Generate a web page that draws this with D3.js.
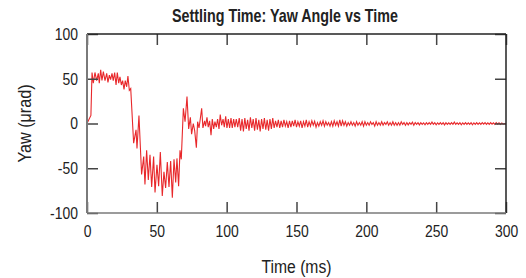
<!DOCTYPE html>
<html>
<head>
<meta charset="utf-8">
<script src="https://cdn.jsdelivr.net/npm/d3@7"></script>
<style>
  body { margin: 0; background: #fff; }
  svg { display: block; font-family: "Liberation Sans", Arial, sans-serif; }
</style>
</head>
<body>
<svg id="chart" width="526" height="278"></svg>
<script>
// transient part (time in ms, yaw in urad)
const transientT = [0, 2.8, 3.6, 4.5, 5.7, 6.9, 8.1, 8.8, 9.8, 10.7, 11.7, 12.9, 14.1, 15.0, 16.0, 16.9,
  17.9, 18.8, 19.8, 20.8, 21.7, 22.7, 23.6, 24.6, 25.5, 26.5, 27.4, 28.4, 29.3, 30.3, 31.3,
  33.4, 35.1, 35.8, 37.2, 39.1, 40.6, 41.5, 42.7, 43.9, 45.1, 46.3, 47.7, 48.7, 50.1, 51.3,
  52.5, 53.9, 55.1, 56.3, 57.5, 58.7, 59.9, 61.1, 62.3, 63.5, 64.4, 65.6, 66.6, 67.5, 69.0,
  70.2, 71.6, 72.8, 74.0, 74.9, 76.1, 77.1, 78.3, 79.2, 80.2, 81.1, 82.1, 83.0, 84.2, 84.9,
  85.9, 86.8, 87.8, 88.8, 89.7, 90.7, 91.6, 92.6, 93.5, 94.5, 95.4, 96.4, 97.4, 98.3, 99.3,
  100.2, 101.2, 102.1, 103.1, 104.0, 105.0, 105.9, 106.9, 107.9];
const transientYaw = [0, 9, 57, 45, 57, 48, 56, 45, 60, 48, 58, 48, 56, 46, 54, 49,
  56, 48, 57, 43, 57, 45, 52, 43, 48, 38, 48, 41, 53, 37, 39,
  -22, -7, -28, 9, -57, -37, -68, -30, -63, -35, -71, -37, -77, -46, -70,
  -32, -81, -54, -72, -43, -71, -42, -83, -40, -66, -39, -70, -30, -40, 17,
  2, 30, -6, 7, -12, 0, -8, -27, 2, -5, 5, 17, -5, 3, -3,
  7, -4, 3, -13, 5, -6, 2, -4, 5, -6, 10, -2, 5, -4, 8,
  -5, 5, -5, 6, -5, 5, -4, 5, -4];

// settling tail, one sample per ms starting at 109 ms
const tailStart = 109;
const tailYaw = [
  6, -8, 5, -9, 6, -6, 4, -8, 7, -5,
  5, -8, 6, -7, 4, -9, 5, -6, 6, -7,
  4, -8, 5, -6, 6, -5, 3, -4, 4, -5,
  3, -4, 4, -3, 2, -5, 3, -4, 3, -3,
  4, -4, 2, -3, 3, -5, 2, -3, 4, -4,
  2, -3, 3, -2, 2.5, -4, 1, -3, 2, -2,
  3, -3, 2, -2, 1, -3, 2, -3, 3, -2,
  2, -3, 4, -3, 3, -2, 2, -3, 1, -2,
  2, -2, 1, -3, 2, -2, 1, -2, 2, -3,
  2, -2, 1, -2, 2, -1, 1, -3, 2, -2,
  1, -2, 2, -2, 1, -1, 2, -2, 1, -2,
  2, -2, 1, -2, 1, -2, 2, -1, 1, -2,
  1, -1.5, 1, -1, 1.5, -2, 1, -1, 1, -1.5,
  1, -1, 0.8, -1.5, 1, -1, 1, -1, 1.5, -1,
  1, -1.5, 0.8, -1, 1, -1, 1, -1.5, 1, -1,
  0.8, -1, 1, -1, 1.5, -1, 0.8, -1, 1, -1.5,
  0.8, -1, 1, -1, 0.8, -1, 1, -1.5, 0.8, -1,
  1, -1, 0.8, -1, 1, -0.8, 1, -1, 0.8, -1,
  1, -0.8, 0.8, -1, 1, -0.8, 0.8, -1, 0.5, -0.8,
  0, -0.5];

const xTicks = [0, 50, 100, 150, 200, 250, 300];
const yTicks = [-100, -50, 0, 50, 100];

const width = 526, height = 278;
const margin = {top: 34, right: 20, bottom: 65, left: 87};
const innerW = width - margin.left - margin.right;
const innerH = height - margin.top - margin.bottom;

let points = transientT.map((t, i) => [t, transientYaw[i]]);
tailYaw.forEach((v, i) => points.push([tailStart + i, v]));

const svg = d3.select("#chart");
const g = svg.append("g").attr("transform", "translate(" + margin.left + "," + margin.top + ")");

let x = d3.scaleLinear().domain([0, 300]).range([0, innerW]);
let y = d3.scaleLinear().domain([-100, 100]).range([innerH, 0]);

// the signal
g.append("path")
  .datum(points)
  .attr("fill", "none")
  .attr("stroke", "#e8282b")
  .attr("stroke-width", 1.1)
  .attr("d", d3.line().x(d => x(d[0])).y(d => y(d[1])));

// axes with inward ticks; tick text squeezed to look like a condensed face
function styleAxis(sel) {
  sel.select(".domain").remove();
  sel.selectAll(".tick line").attr("stroke", "#444").attr("stroke-width", 1.5);
  sel.selectAll(".tick text").attr("fill", "#222").style("font-size", "17px");
}

let xAxis = g.append("g")
  .attr("transform", "translate(0," + innerH + ")")
  .call(d3.axisBottom(x).tickValues(xTicks).tickFormat(d => String(d))
    .tickSizeInner(-11).tickSizeOuter(0).tickPadding(12))
  .call(styleAxis);
xAxis.selectAll(".tick text").attr("transform", "scale(0.82,1)");

let yAxis = g.append("g")
  .call(d3.axisLeft(y).tickValues(yTicks).tickFormat(d => String(d))
    .tickSizeInner(-11).tickSizeOuter(0).tickPadding(8))
  .call(styleAxis);
yAxis.selectAll(".tick text").attr("x", 0).attr("transform", "translate(-9,0) scale(0.82,1)");

g.append("g")
  .call(d3.axisTop(x).tickValues(xTicks).tickSizeInner(-11).tickSizeOuter(0).tickFormat(""))
  .call(styleAxis);

g.append("g")
  .attr("transform", "translate(" + innerW + ",0)")
  .call(d3.axisRight(y).tickValues(yTicks).tickSizeInner(-11).tickSizeOuter(0).tickFormat(""))
  .call(styleAxis);

// frame: left/bottom grey, top/right dark
g.append("line").attr("x1", 0).attr("x2", innerW).attr("y1", 0).attr("y2", 0)
  .attr("stroke", "#222").attr("stroke-width", 1.5);
g.append("line").attr("x1", innerW).attr("x2", innerW).attr("y1", 0).attr("y2", innerH)
  .attr("stroke", "#222").attr("stroke-width", 1.5);
g.append("line").attr("x1", 0).attr("x2", 0).attr("y1", 0).attr("y2", innerH)
  .attr("stroke", "#7a7a7a").attr("stroke-width", 2);
g.append("line").attr("x1", 0).attr("x2", innerW).attr("y1", innerH).attr("y2", innerH)
  .attr("stroke", "#7a7a7a").attr("stroke-width", 1.5);

// title and labels
svg.append("text")
  .attr("x", 285)
  .attr("y", 22)
  .attr("text-anchor", "middle")
  .attr("textLength", 226)
  .attr("lengthAdjust", "spacingAndGlyphs")
  .style("font-size", "18.5px")
  .style("font-weight", "bold")
  .attr("fill", "#222")
  .text("Settling Time: Yaw Angle vs Time");

svg.append("text")
  .attr("x", margin.left + innerW / 2)
  .attr("y", 273)
  .attr("text-anchor", "middle")
  .attr("textLength", 70)
  .attr("lengthAdjust", "spacingAndGlyphs")
  .style("font-size", "17.5px")
  .attr("fill", "#222")
  .text("Time (ms)");

svg.append("text")
  .attr("transform", "translate(31," + (margin.top + innerH / 2) + ") rotate(-90)")
  .attr("text-anchor", "middle")
  .attr("textLength", 78)
  .attr("lengthAdjust", "spacingAndGlyphs")
  .style("font-size", "17.5px")
  .attr("fill", "#222")
  .text("Yaw (μrad)");
</script>
</body>
</html>
